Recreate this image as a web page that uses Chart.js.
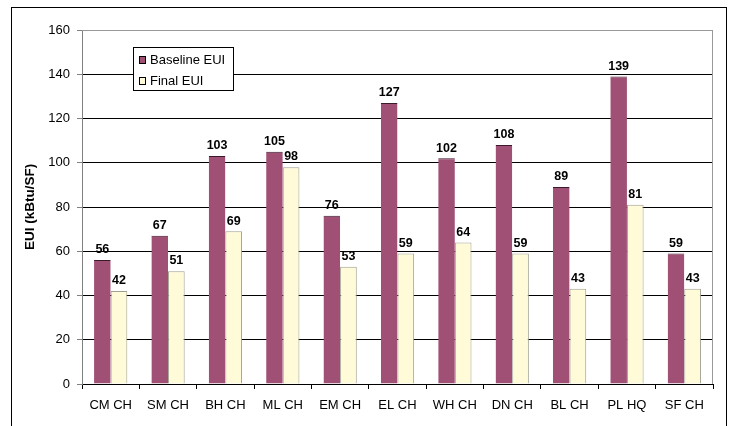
<!DOCTYPE html>
<html>
<head>
<meta charset="utf-8">
<script src="https://cdn.jsdelivr.net/npm/chart.js@4"></script>
<style>
  body { margin: 0; background: #fff; }
  #wrap { width: 733px; height: 426px; }
</style>
</head>
<body>
<div id="wrap"><canvas id="chart" width="733" height="426"></canvas></div>
<script>
// chart data
const categories = ['CM CH', 'SM CH', 'BH CH', 'ML CH', 'EM CH', 'EL CH', 'WH CH', 'DN CH', 'BL CH', 'PL HQ', 'SF CH'];
const baselineEUI = [56, 67, 103, 105, 76, 127, 102, 108, 89, 139, 59];
const finalEUI = [42, 51, 69, 98, 53, 59, 64, 59, 43, 81, 43];
const seriesNames = ['Baseline EUI', 'Final EUI'];
const yTicks = [0, 20, 40, 60, 80, 100, 120, 140, 160];

const FONT = 'Liberation Sans, Arial, sans-serif';

// frame, plot border, value labels and the boxed legend
const decorations = {
  id: 'decorations',
  beforeDraw(chart) {
    const ctx = chart.ctx;
    ctx.save();
    ctx.fillStyle = '#fff';
    ctx.fillRect(0, 0, chart.width, chart.height);
    ctx.strokeStyle = '#000';
    ctx.lineWidth = 1;
    ctx.strokeRect(11.5, 7.5, 715, 440);
    ctx.restore();
  },
  afterDatasetsDraw(chart) {
    const ctx = chart.ctx;
    const a = chart.chartArea;
    ctx.save();
    // plot area top/right border
    ctx.strokeStyle = '#999';
    ctx.beginPath();
    ctx.moveTo(a.left, a.top + 0.5);
    ctx.lineTo(a.right - 0.5, a.top + 0.5);
    ctx.lineTo(a.right - 0.5, a.bottom);
    ctx.stroke();

    // value labels
    ctx.fillStyle = '#000';
    ctx.font = 'bold 12.5px ' + FONT;
    ctx.textAlign = 'center';
    ctx.textBaseline = 'bottom';
    chart.data.datasets.forEach((ds, i) => {
      chart.getDatasetMeta(i).data.forEach((bar, j) => {
        ctx.fillText(String(ds.data[j]), bar.x, bar.y - 4);
      });
    });

    // legend box
    const lx = 133.5, ly = 47.5, lw = 100, lh = 43;
    ctx.fillStyle = '#fff';
    ctx.fillRect(lx, ly, lw, lh);
    ctx.strokeStyle = '#000';
    ctx.strokeRect(lx, ly, lw, lh);
    ctx.font = '13px ' + FONT;
    ctx.textAlign = 'left';
    ctx.textBaseline = 'middle';
    chart.data.datasets.forEach((ds, i) => {
      const y = 60 + i * 21;
      ctx.fillStyle = ds.backgroundColor;
      ctx.fillRect(139.5, y - 3.5, 6, 7);
      ctx.strokeStyle = '#000';
      ctx.strokeRect(139.5, y - 3.5, 6, 7);
      ctx.fillStyle = '#000';
      ctx.fillText(seriesNames[i], 150, y);
    });
    ctx.restore();
  }
};

new Chart(document.getElementById('chart'), {
  type: 'bar',
  data: {
    labels: categories,
    datasets: [
      {
        label: seriesNames[0],
        data: baselineEUI,
        backgroundColor: '#A04F75',
        borderColor: '#3a1a2a',
        borderWidth: { top: 1, left: 0, right: 0, bottom: 0 },
        borderSkipped: false
      },
      {
        label: seriesNames[1],
        data: finalEUI,
        backgroundColor: '#FFFAD7',
        borderColor: '#a0a090',
        borderWidth: 1,
        borderSkipped: 'bottom'
      }
    ]
  },
  options: {
    responsive: false,
    animation: false,
    devicePixelRatio: 1,
    categoryPercentage: 0.58,
    barPercentage: 1,
    layout: { padding: { left: 18, top: 30, right: 20, bottom: 0 } },
    plugins: {
      legend: { display: false },
      tooltip: { enabled: false }
    },
    scales: {
      x: {
        afterFit(scale) { scale.height = 42; },
        grid: { drawOnChartArea: false, drawTicks: true, tickLength: 5, color: '#000', offset: true },
        border: { color: '#000' },
        ticks: { color: '#000', font: { family: FONT, size: 13 }, padding: 9, maxRotation: 0 }
      },
      y: {
        min: 0,
        max: 160,
        afterFit(scale) { scale.width = 64; },
        afterBuildTicks(scale) { scale.ticks = yTicks.map(v => ({ value: v })); },
        grid: {
          color: ctx => (ctx.tick && ctx.tick.value === 160 ? '#999' : '#000'),
          tickLength: 5,
          tickColor: '#808080'
        },
        border: { color: '#808080' },
        ticks: { color: '#000', font: { family: FONT, size: 13 }, padding: 7 },
        title: {
          display: true,
          text: 'EUI (kBtu/SF)',
          color: '#000',
          font: { family: FONT, size: 13.5, weight: 'bold' },
          padding: { top: 4, bottom: 0 }
        }
      }
    }
  },
  plugins: [decorations]
});
</script>
</body>
</html>
